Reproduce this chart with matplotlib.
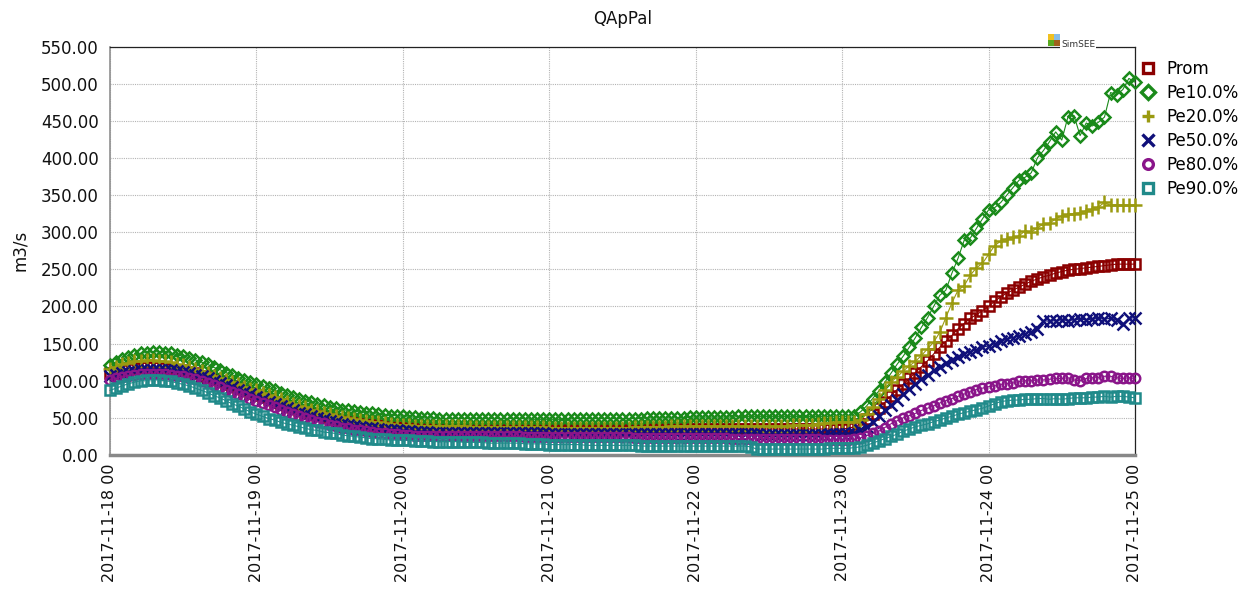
import numpy as np
import pandas as pd
import matplotlib
matplotlib.use("Agg")
import matplotlib.pyplot as plt
import matplotlib.dates as mdates
from matplotlib.lines import Line2D
from matplotlib.patches import Rectangle

title = "QApPal"
ylabel = "m3/s"
start = "2017-11-18 00:00"
n_hours = 169
series_names = ["Prom", "Pe10.0%", "Pe20.0%", "Pe50.0%", "Pe80.0%", "Pe90.0%"]

prom = [110,112,114,116,117,118,118,118,118,117,116,115,114,112,110,107,105,102,99,96,93,90,87,84,
        81,78,75,72,69,66,63,61,58,56,54,52,50,48,47,45,44,43,42,41,40,39,38,38,
        37,37,36,36,36,35,35,35,35,35,35,35,35,35,35,35,34,34,34,34,34,34,34,34,
        34,34,34,34,34,34,34,34,34,34,34,34,34,34,34,35,35,35,35,35,35,35,35,35,
        35,35,35,35,35,35,35,35,35,35,35,35,35,35,35,35,35,35,35,35,35,35,35,35,
        35,36,38,42,48,55,63,71,80,88,95,103,111,119,127,136,145,153,161,170,177,184,189,194,
        200,207,213,218,222,226,230,234,237,240,242,245,247,249,250,251,252,253,254,255,256,257,257,257,257]

pe10 = [121,125,129,132,135,137,138,139,139,138,137,135,133,131,128,125,122,118,115,111,108,104,101,98,
        96,93,90,87,84,81,78,76,73,71,69,67,65,63,61,60,59,58,57,56,55,54,53,53,
        52,51,51,50,50,50,49,49,49,49,49,49,49,49,49,49,49,49,49,49,49,48,48,48,
        48,48,48,48,49,49,49,49,49,49,49,49,49,49,49,49,50,50,50,50,50,50,50,51,
        51,51,51,51,51,51,51,52,52,52,52,52,52,52,52,52,52,52,52,52,52,52,52,52,
        52,52,53,58,66,76,86,98,110,122,133,145,158,172,185,200,215,222,245,265,289,292,305,318,
        330,333,340,350,360,370,374,380,400,410,422,435,424,455,457,430,447,443,448,455,488,485,492,507,502]

pe20 = [116,119,122,124,126,127,128,128,127,126,125,123,121,119,116,113,110,107,104,101,98,95,92,89,
        87,84,81,78,75,72,69,66,64,61,59,57,55,53,51,50,48,47,46,45,44,43,42,41,
        40,40,39,39,39,39,39,39,39,39,39,38,38,38,38,38,38,38,38,38,38,38,38,38,
        37,37,37,37,37,37,37,37,37,37,37,37,37,37,38,38,38,38,38,38,39,39,39,39,
        39,39,39,39,39,39,39,39,39,39,39,39,39,39,39,39,40,40,40,41,42,43,43,44,
        44,44,45,47,55,64,75,88,98,105,113,120,126,134,143,152,165,185,205,222,228,242,252,258,
        270,282,288,291,293,295,302,300,306,311,312,318,322,324,325,326,329,331,334,340,336,337,336,336,336]

pe50 = [106,108,110,112,113,114,114,115,115,114,114,113,112,110,108,106,103,100,97,94,91,88,85,82,
        78,75,72,69,66,63,60,57,55,52,50,48,46,44,42,41,39,38,37,36,35,34,33,33,
        32,32,31,31,31,30,30,30,30,30,30,30,30,30,30,29,29,29,29,29,29,29,29,29,
        28,28,28,28,28,28,28,28,28,28,28,28,28,28,28,28,28,28,28,28,28,28,28,28,
        28,28,28,28,28,28,28,28,28,28,28,27,27,27,27,27,27,27,27,27,27,27,28,28,
        28,28,30,33,38,45,52,60,67,74,82,89,96,102,108,114,119,124,128,132,136,139,142,145,
        147,150,153,156,158,160,163,166,169,181,180,181,182,181,182,183,182,183,184,183,184,182,176,184,185]

pe80 = [101,103,105,107,108,109,109,109,109,109,108,107,106,104,102,100,97,94,91,88,85,82,79,76,
        73,70,67,64,61,58,55,52,50,47,45,43,41,39,37,36,34,33,32,31,30,29,28,28,
        27,27,26,26,26,26,25,25,25,25,25,25,25,25,25,25,25,25,25,25,24,24,24,24,
        24,24,24,24,24,24,24,24,24,24,24,24,24,24,23,23,23,23,23,23,23,23,23,23,
        23,23,23,23,23,23,22,22,22,22,22,22,22,22,21,21,21,21,21,21,21,20,20,20,
        20,20,21,23,26,29,32,37,42,46,50,53,56,60,63,66,70,73,76,79,82,85,88,90,
        92,93,95,96,97,99,100,100,101,101,102,103,103,104,101,100,103,104,104,106,106,104,103,104,103]

pe90 = [87,90,93,96,98,100,101,101,101,100,99,97,95,93,90,87,84,80,77,73,69,66,62,58,
        55,52,49,47,44,42,40,38,36,34,33,31,30,29,27,26,25,24,23,22,22,21,20,20,
        20,20,19,19,19,18,18,18,18,18,17,17,17,17,16,16,16,16,16,16,15,15,15,15,
        14,14,14,14,14,14,13,13,13,13,13,13,13,13,13,12,12,12,12,12,12,12,12,12,
        12,12,12,12,12,12,12,12,12,11,8,8,8,8,8,8,8,8,8,8,8,8,9,9,
        9,9,10,11,13,16,19,22,25,28,32,35,38,40,42,45,47,50,52,55,57,59,61,63,
        66,69,72,73,74,74,75,75,76,76,75,76,75,76,77,77,77,78,78,79,78,79,79,78,77]

values = [prom, pe10, pe20, pe50, pe80, pe90]
colors = ["#8b0000", "#1a8a1a", "#9a9a10", "#10107a", "#8a158a", "#208a8a"]
markers = ["s", "D", "+", "x", "o", "s"]
msizes = [6.8, 6.2, 9.5, 8.0, 6.8, 6.8]

times = pd.date_range(start, periods=n_hours, freq="h")

W, H = 1258, 599
fig = plt.figure(figsize=(W / 100, H / 100), dpi=100)
ax = fig.add_axes([110 / W, 1 - 455 / H, (1135 - 110) / W, (455 - 46.5) / H])

handles = []
for name, vals, c, m, ms in zip(series_names, values, colors, markers, msizes):
    filled = m in ("+", "x")
    ax.plot(times, vals, color=c, lw=0.8, marker=m, ms=ms,
            mfc=("none" if not filled else c), mec=c, mew=1.8, clip_on=False, zorder=3)
    handles.append(Line2D([], [], ls="none", marker=m, ms=(8 if filled else 7), mfc=("none" if not filled else c),
                          mec=c, mew=2.4, color=c, label=name))

ax.set_xlim(times[0], times[-1])
ax.set_ylim(0, 550)
ax.set_yticks(np.arange(0, 551, 50))
ax.yaxis.set_major_formatter(matplotlib.ticker.FormatStrFormatter("%.2f"))
ax.xaxis.set_major_locator(mdates.DayLocator())
ax.xaxis.set_major_formatter(mdates.DateFormatter("%Y-%m-%d %H"))
for lab in ax.get_xticklabels():
    lab.set_rotation(90)
ax.tick_params(axis="both", length=0, labelsize=12, colors="#111111")
ax.tick_params(axis="x", pad=6, labelsize=11.5)
ax.tick_params(axis="y", pad=8)
ax.grid(True, color="#b4b4b4", ls=(0, (1, 1)), lw=0.8)
ax.set_axisbelow(True)
for s in ["top", "right"]:
    ax.spines[s].set_color("#222222")
    ax.spines[s].set_linewidth(0.9)
ax.spines["left"].set_color("#909090")
ax.spines["left"].set_linewidth(1.2)
ax.spines["bottom"].set_color("#888888")
ax.spines["bottom"].set_linewidth(2.5)

ax.set_title(title, fontsize=12, pad=16, color="#111111")
fig.text(20 / W, 1 - 250 / H, ylabel, rotation=90, ha="center", va="center", fontsize=12, color="#111111")

fig.legend(handles=handles, loc="upper left", bbox_to_anchor=(1140 / W, 1 - 60 / H),
           frameon=False, fontsize=12, handlelength=1.0, handletextpad=0.6,
           labelspacing=0.36, borderaxespad=0, borderpad=0)

# SimSEE logo
def figrect(x, y, w, h, c):
    fig.add_artist(Rectangle((x / W, 1 - (y + h) / H), w / W, h / H, transform=fig.transFigure,
                             color=c, lw=0, zorder=10))
figrect(1048, 34, 6, 6, "#f0c020")
figrect(1054, 34, 6, 6, "#88bde6")
figrect(1048, 40, 6, 6, "#5aaa20")
figrect(1054, 40, 6, 6, "#a0601c")
fig.text(1061 / W, 1 - 47 / H, "SimSEE", fontsize=6.5, ha="left", va="baseline", color="#333333",
         zorder=10, bbox=dict(facecolor="white", edgecolor="none", pad=0.5))

fig.savefig("out.png", dpi=100)
